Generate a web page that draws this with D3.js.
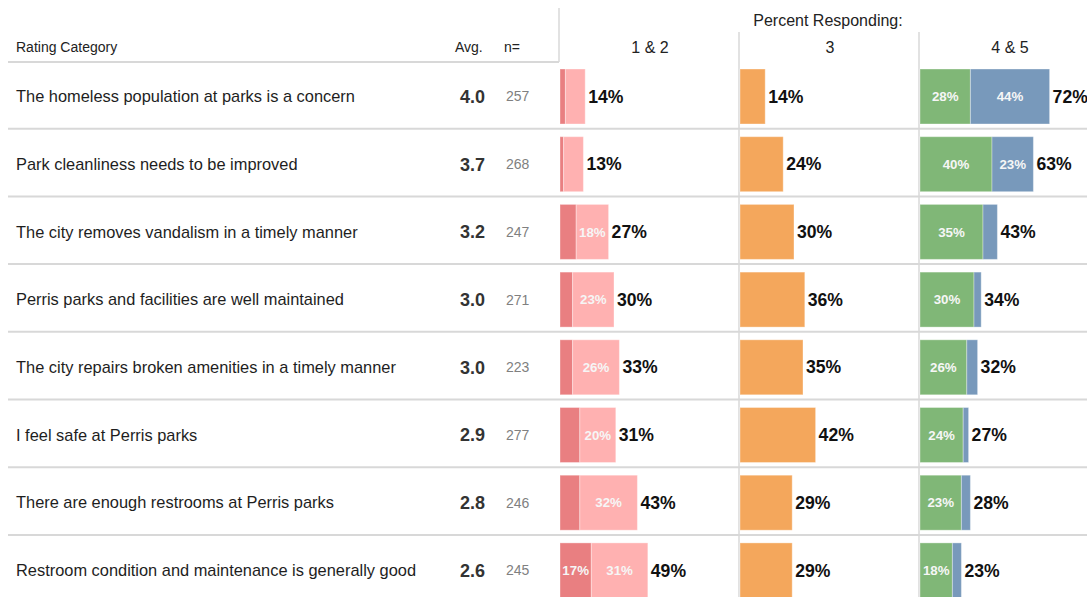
<!DOCTYPE html>
<html>
<head>
<meta charset="utf-8">
<script src="https://cdn.jsdelivr.net/npm/d3@7"></script>
<style>
  html, body { margin: 0; padding: 0; background: #fff; }
  svg { display: block; font-family: "Liberation Sans", Arial, sans-serif; }
</style>
</head>
<body>
<svg id="chart" width="1087" height="597"></svg>
<script>
// Survey items, in display order
const categories = [
  "The homeless population at parks is a concern",
  "Park cleanliness needs to be improved",
  "The city removes vandalism in a timely manner",
  "Perris parks and facilities are well maintained",
  "The city repairs broken amenities in a timely manner",
  "I feel safe at Perris parks",
  "There are enough restrooms at Perris parks",
  "Restroom condition and maintenance is generally good"
];
const avgScore = [4.0, 3.7, 3.2, 3.0, 3.0, 2.9, 2.8, 2.6];
const respondents = [257, 268, 247, 271, 223, 277, 246, 245];

// Percent responding per rating
const rating1 = [3, 2, 9, 7, 7, 11, 11, 17.4];
const rating2 = [11, 11, 18, 23, 26, 20, 32, 31.4];
const rating3 = [14, 24, 30, 36, 35, 42, 29, 29];
const rating4 = [28, 40, 35, 30, 26, 24, 23, 18];
const rating5 = [44, 23, 8, 4, 6, 3, 5, 5];

const groupLabels = ["1 & 2", "3", "4 & 5"];

const colors = {
  r1: "#e97f81",
  r2: "#ffb1b1",
  r3: "#f4a75c",
  r4: "#80b777",
  r5: "#7899bb"
};

const svg = d3.select("#chart");
const pct = v => d3.format(".0f")(v) + "%";

// Row bands
const y = d3.scaleBand()
  .domain(categories)
  .range([61, 61 + categories.length * 67.7]);

// Each rating group gets its own 0-100% column
const colStart = [560, 740, 920];
const x = d3.scaleLinear().domain([0, 100]).range([0, 180]);

const lineColor = "#d8d8d8";

// Header frame for the left block
svg.append("line")
  .attr("x1", 8).attr("x2", 559).attr("y1", 62).attr("y2", 62)
  .attr("stroke", lineColor).attr("stroke-width", 2);
svg.append("line")
  .attr("x1", 559).attr("x2", 559).attr("y1", 8).attr("y2", 62)
  .attr("stroke", lineColor).attr("stroke-width", 1.5);

// Column separators
[739, 919].forEach(cx => {
  svg.append("line")
    .attr("x1", cx).attr("x2", cx).attr("y1", 32).attr("y2", 597)
    .attr("stroke", lineColor).attr("stroke-width", 1.5);
});

// Row separators
svg.append("g").selectAll("line")
  .data(categories)
  .join("line")
  .attr("x1", 8).attr("x2", 1087)
  .attr("y1", d => y(d) + y.bandwidth())
  .attr("y2", d => y(d) + y.bandwidth())
  .attr("stroke", lineColor).attr("stroke-width", 2);

// Header text
const hdr = svg.append("g").attr("fill", "#222");
hdr.append("text").attr("x", 16).attr("y", 52).attr("font-size", 14).text("Rating Category");
hdr.append("text").attr("x", 455).attr("y", 52).attr("font-size", 14).text("Avg.");
hdr.append("text").attr("x", 504).attr("y", 52).attr("font-size", 14).text("n=");
hdr.append("text").attr("x", 828).attr("y", 26).attr("font-size", 16)
  .attr("text-anchor", "middle").text("Percent Responding:");
groupLabels.forEach((g, i) => {
  hdr.append("text")
    .attr("x", colStart[i] + x(50)).attr("y", 53)
    .attr("font-size", 16).attr("text-anchor", "middle").text(g);
});

// Row labels, averages and counts
const rows = svg.append("g").selectAll("g")
  .data(categories)
  .join("g")
  .attr("transform", d => `translate(0,${y(d) + 35.5})`);

rows.append("text")
  .attr("x", 16).attr("dy", "0.35em")
  .attr("font-size", 16.4).attr("fill", "#1e1e1e")
  .text(d => d);

rows.append("text")
  .attr("x", 485).attr("dy", "0.35em")
  .attr("text-anchor", "end")
  .attr("font-size", 18).attr("font-weight", "bold").attr("fill", "#333")
  .text((d, i) => d3.format(".1f")(avgScore[i]));

rows.append("text")
  .attr("x", 506).attr("dy", "0.35em")
  .attr("font-size", 14).attr("fill", "#808080")
  .text((d, i) => respondents[i]);

// Stacked bars per group
const groups = [
  [{ key: "r1", vals: rating1 }, { key: "r2", vals: rating2 }],
  [{ key: "r3", vals: rating3 }],
  [{ key: "r4", vals: rating4 }, { key: "r5", vals: rating5 }]
];

const barTop = 8, barH = 55;

groups.forEach((segs, gi) => {
  const g = svg.append("g").attr("transform", `translate(${colStart[gi]},0)`);
  categories.forEach((cat, ri) => {
    let acc = 0;
    const top = y(cat) + barTop;
    segs.forEach(s => {
      const v = s.vals[ri];
      g.append("rect")
        .attr("x", x(acc)).attr("y", top)
        .attr("width", x(v) - x(0)).attr("height", barH)
        .attr("fill", colors[s.key])
        .attr("stroke", "#fff").attr("stroke-opacity", 0.35).attr("stroke-width", 1);
      if (segs.length > 1 && v >= 15) {
        g.append("text")
          .attr("x", x(acc + v / 2)).attr("y", top + barH / 2)
          .attr("dy", "0.35em").attr("text-anchor", "middle")
          .attr("font-size", 13.3).attr("font-weight", "bold")
          .attr("fill", "#f6f6f6")
          .text(pct(v));
      }
      acc += v;
    });
    g.append("text")
      .attr("x", x(acc) + 3).attr("y", top + barH / 2)
      .attr("dy", "0.35em")
      .attr("font-size", 17.6).attr("font-weight", "bold").attr("fill", "#111")
      .text(pct(acc));
  });
});
</script>
</body>
</html>
